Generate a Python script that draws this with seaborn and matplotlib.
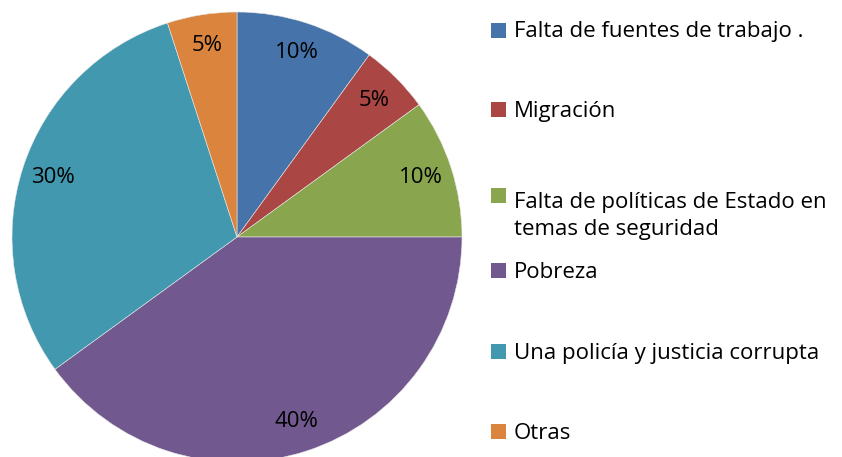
import matplotlib
matplotlib.use("Agg")
import matplotlib.pyplot as plt
from matplotlib.patches import Rectangle
import seaborn as sns

# data
causas = ["Falta de fuentes de trabajo .",
          "Migración",
          "Falta de políticas de Estado en\ntemas de seguridad",
          "Pobreza",
          "Una policía y justicia corrupta",
          "Otras"]
porcentajes = [10, 5, 10, 40, 30, 5]
colores = ["#4674AA", "#AA4644", "#89A54E", "#71588F", "#4198AF", "#DB843D"]

# legend layout (first-line baselines, px from top)
base_leyenda = [37.5, 117, 203, 277.5, 359, 439]

sns.set_theme(style="white")
plt.rcParams['font.family'] = ['Open Sans', 'DejaVu Sans']
pal = sns.color_palette(colores)

W, H = 842, 457
fig = plt.figure(figsize=(W / 100, H / 100), dpi=100)
fig.patch.set_facecolor("white")

# pie axes: centre ~ (237, 237) px, radius ~225 px
r = 225
ax = fig.add_axes([(237 - r) / W, (H - 237 - r) / H, 2 * r / W, 2 * r / H])
wedges, _, autotexts = ax.pie(porcentajes, colors=pal, startangle=90, counterclock=False,
                              autopct=lambda p: "%d%%" % round(p), pctdistance=0.86,
                              radius=1, wedgeprops=dict(linewidth=0.4, edgecolor="#e8e8e8"),
                              textprops=dict(fontsize=16, color="black"))
ax.set_xlim(-1, 1)
ax.set_ylim(-1, 1)
ax.set_aspect("equal")
ax.axis("off")

# legend, drawn by hand to follow the spreadsheet layout
salto = 32  # px between wrapped lines
for lab, c, yb in zip(causas, pal, base_leyenda):
    fig.patches.append(Rectangle((491 / W, 1 - yb / H), 15 / W, 15 / H,
                                 transform=fig.transFigure, facecolor=c, edgecolor="none"))
    n = lab.count("\n")
    # 'baseline' aligns the last line, so shift down for wrapped labels
    fig.text(514 / W, 1 - (yb + n * salto) / H, lab, fontsize=16, va="baseline", ha="left",
             linespacing=1.4, color="black")

fig.savefig("out.png", dpi=100)
